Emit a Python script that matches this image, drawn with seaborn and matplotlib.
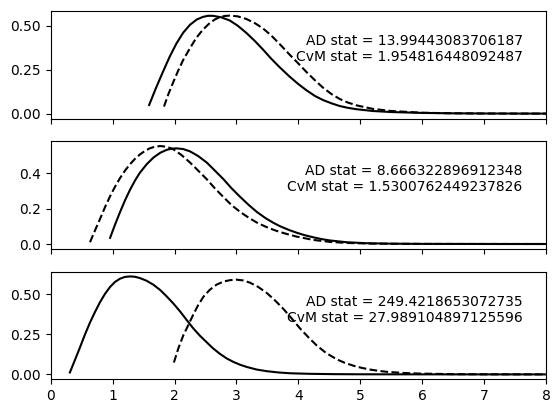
import matplotlib
matplotlib.use("Agg")
import matplotlib.pyplot as plt
import seaborn as sns

boven_x_vast = [1.59, 1.70, 1.81, 1.92, 2.03, 2.14, 2.25, 2.36, 2.46, 2.54, 2.62, 2.75, 2.89,
                3.02, 3.16, 3.30, 3.43, 3.56, 3.70, 3.86, 4.00, 4.13, 4.27, 4.40, 4.54,
                4.67, 4.80, 4.94, 5.2, 5.5, 6.0, 6.5, 7.0, 7.5, 8.0]
boven_y_vast = [0.049, 0.145, 0.235, 0.322, 0.398, 0.46, 0.505, 0.535, 0.55, 0.556, 0.556, 0.548, 0.53,
                0.50, 0.459, 0.412, 0.364, 0.313, 0.263, 0.21, 0.168, 0.133, 0.10, 0.077, 0.058,
                0.043, 0.033, 0.025, 0.015, 0.009, 0.004, 0.0018, 0.0008, 0.0003, 0.0001]
boven_x_stip = [1.83, 1.90, 1.98, 2.06, 2.14, 2.25, 2.35, 2.46, 2.57, 2.65, 2.73, 2.81, 2.89, 3.02,
                3.16, 3.30, 3.43, 3.56, 3.70, 3.86, 4.00, 4.13, 4.27, 4.40, 4.54, 4.67,
                4.80, 4.94, 5.2, 5.5, 6.0, 6.5, 7.0, 8.0]
boven_y_stip = [0.04, 0.11, 0.179, 0.245, 0.305, 0.372, 0.43, 0.478, 0.515, 0.535, 0.548, 0.555, 0.557, 0.553,
                0.538, 0.514, 0.484, 0.445, 0.395, 0.335, 0.285, 0.237, 0.189, 0.147, 0.11, 0.083,
                0.063, 0.047, 0.027, 0.015, 0.005, 0.0018, 0.0006, 0.0001]

midden_x_vast = [0.96, 1.04, 1.12, 1.20, 1.28, 1.36, 1.44, 1.55, 1.66, 1.77, 1.87, 1.95,
                 2.03, 2.14, 2.25, 2.38, 2.52, 2.65, 2.79, 2.92, 3.06, 3.20, 3.33, 3.47,
                 3.60, 3.70, 3.85, 3.97, 4.10, 4.24, 4.37, 4.51, 4.78, 5.1, 5.5, 6.0, 7.0, 8.0]
midden_y_vast = [0.035, 0.11, 0.18, 0.246, 0.305, 0.357, 0.402, 0.45, 0.488, 0.515, 0.531, 0.538,
                 0.54, 0.536, 0.523, 0.497, 0.46, 0.415, 0.366, 0.315, 0.266, 0.22, 0.181, 0.146,
                 0.119, 0.101, 0.079, 0.064, 0.05, 0.038, 0.028, 0.02, 0.01, 0.0045, 0.0018,
                 0.0007, 0.0001, 0.0]
midden_x_stip = [0.635, 0.72, 0.80, 0.88, 0.96, 1.04, 1.12, 1.20, 1.28, 1.36, 1.44, 1.52,
                 1.60, 1.68, 1.77, 1.87, 1.98, 2.11, 2.25, 2.38, 2.52, 2.65, 2.79, 2.92,
                 3.06, 3.20, 3.33, 3.47, 3.60, 3.70, 3.85, 3.97, 4.24, 4.51, 4.78, 5.2, 6.0, 8.0]
midden_y_stip = [0.01, 0.08, 0.144, 0.21, 0.27, 0.324, 0.372, 0.414, 0.45, 0.48, 0.505, 0.525,
                 0.54, 0.549, 0.553, 0.549, 0.535, 0.503, 0.46, 0.415, 0.366, 0.315, 0.265, 0.22,
                 0.181, 0.148, 0.121, 0.098, 0.08, 0.068, 0.053, 0.042, 0.023, 0.012, 0.006, 0.002,
                 0.0004, 0.0]

onder_x_vast = [0.31, 0.39, 0.47, 0.55, 0.635, 0.72, 0.80, 0.88, 0.96, 1.04, 1.12, 1.20,
                1.28, 1.36, 1.44, 1.55, 1.66, 1.77, 1.87, 1.98, 2.09, 2.20, 2.30, 2.41,
                2.52, 2.62, 2.73, 2.84, 2.95, 3.06, 3.17, 3.33, 3.49, 3.68, 3.87, 4.2,
                4.6, 5.0, 6.0, 8.0]
onder_y_vast = [0.012, 0.088, 0.165, 0.245, 0.323, 0.392, 0.452, 0.503, 0.545, 0.576, 0.596, 0.607,
                0.61, 0.608, 0.60, 0.583, 0.558, 0.525, 0.487, 0.442, 0.392, 0.337, 0.288, 0.241,
                0.20, 0.163, 0.129, 0.10, 0.078, 0.06, 0.046, 0.03, 0.02, 0.012, 0.007, 0.0035,
                0.0015, 0.0007, 0.0002, 0.0]
onder_x_stip = [1.99, 2.06, 2.14, 2.22, 2.30, 2.38, 2.47, 2.57, 2.68, 2.79, 2.90, 3.00,
                3.11, 3.22, 3.35, 3.49, 3.62, 3.76, 3.90, 4.03, 4.17, 4.30, 4.45, 4.62,
                4.75, 4.89, 5.02, 5.16, 5.30, 5.43, 5.7, 5.97, 6.5, 7.0, 8.0]
onder_y_stip = [0.074, 0.16, 0.241, 0.305, 0.37, 0.43, 0.485, 0.527, 0.559, 0.578, 0.587, 0.59,
                0.585, 0.571, 0.545, 0.507, 0.462, 0.407, 0.345, 0.285, 0.228, 0.179, 0.133, 0.094,
                0.072, 0.054, 0.041, 0.03, 0.022, 0.016, 0.009, 0.005, 0.0015, 0.0005, 0.0001]

statistieken = [
    ("13.99443083706187", "1.954816448092487"),
    ("8.666322896912348", "1.5300762449237826"),
    ("249.4218653072735", "27.989104897125596"),
]

panelen = [
    (boven_x_vast, boven_y_vast, boven_x_stip, boven_y_stip),
    (midden_x_vast, midden_y_vast, midden_x_stip, midden_y_stip),
    (onder_x_vast, onder_y_vast, onder_x_stip, onder_y_stip),
]

fig, assen = plt.subplots(3, 1, sharex=True, figsize=(5.6, 4.13), dpi=100)
fig.subplots_adjust(left=0.0905, right=0.975, top=0.974, bottom=0.0816, hspace=0.21)

for ax, (xv, yv, xs, ys), (ad, cvm) in zip(assen, panelen, statistieken):
    sns.lineplot(x=xv, y=yv, ax=ax, color="k", linewidth=1.5)
    sns.lineplot(x=xs, y=ys, ax=ax, color="k", linewidth=1.5, linestyle="--")
    ax.text(0.953, 0.645, f"AD stat = {ad}\nCvM stat = {cvm}",
            transform=ax.transAxes, ha="right", va="center", multialignment="right",
            fontsize=10)
    ax.set_xlim(0, 8)
    ax.set_xlabel("")
    ax.set_ylabel("")

assen[1].set_yticks([0.0, 0.2, 0.4])

plt.savefig("out.png", dpi=100)
